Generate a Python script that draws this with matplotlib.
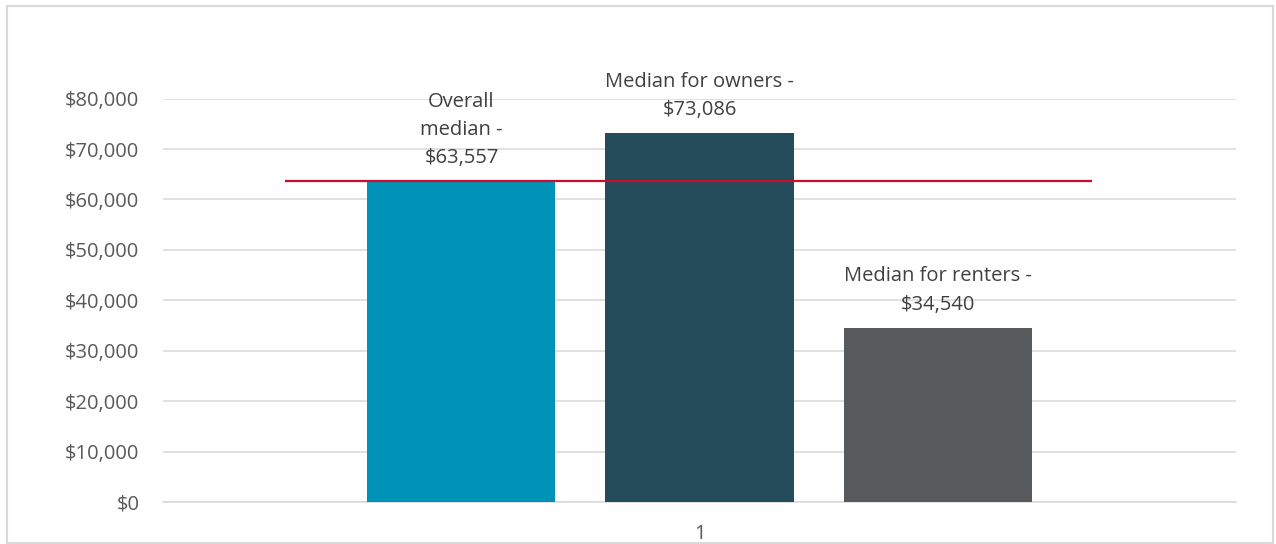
import matplotlib.pyplot as plt
from matplotlib.patches import Rectangle
from matplotlib.ticker import FuncFormatter

plt.rcParams["font.family"] = ["Open Sans", "DejaVu Sans"]

labels = ["Overall\nmedian -\n$63,557", "Median for owners -\n$73,086", "Median for renters -\n$34,540"]
values = [63557, 73086, 34540]
colors = ["#0093B8", "#254C5A", "#575A5D"]
overall_median = 63557
category = "1"

text_color = "#595959"
grid_color = "#D9D9D9"

fig = plt.figure(figsize=(12.76, 5.44), dpi=100)
ax = fig.add_axes([0.1277, 0.0772, 0.841, 0.7416])

# clustered bars around the single category at x = 0
width = 0.1752
offsets = [-0.2218, 0.0, 0.2218]
for off, v, c, lab in zip(offsets, values, colors, labels):
    ax.bar(off, v, width=width, color=c, zorder=3)
    ax.annotate(lab, xy=(off, v), xytext=(0, 9.5), textcoords="offset points",
                ha="center", va="bottom", fontsize=14.5, color="#404040",
                linespacing=1.55, annotation_clip=False, zorder=5)

# overall median reference line
ax.plot([-0.3867, 0.3653], [overall_median, overall_median], color="#C8102E",
        lw=1.6, zorder=4, solid_capstyle="butt")

ax.set_xlim(-0.5, 0.5)
ax.set_ylim(0, 80000)
ax.set_yticks(range(0, 80001, 10000))
ax.yaxis.set_major_formatter(FuncFormatter(lambda v, p: f"${v:,.0f}"))
ax.set_xticks([0])
ax.set_xticklabels([category])
ax.grid(axis="y", color=grid_color, lw=1.1, zorder=0)
ax.tick_params(axis="y", length=0, pad=17, labelsize=14.5, labelcolor=text_color)
ax.tick_params(axis="x", length=0, pad=16, labelsize=14.5, labelcolor=text_color)
for side in ["top", "right", "left"]:
    ax.spines[side].set_visible(False)
ax.spines["bottom"].set_color(grid_color)
ax.spines["bottom"].set_linewidth(1.1)

# chart area border
fig.patches.append(Rectangle((7 / 1276, 1 / 544), 1266 / 1276, 537 / 544,
                             transform=fig.transFigure, fill=False,
                             edgecolor=grid_color, lw=1.5))

fig.savefig("out.png", dpi=100)
